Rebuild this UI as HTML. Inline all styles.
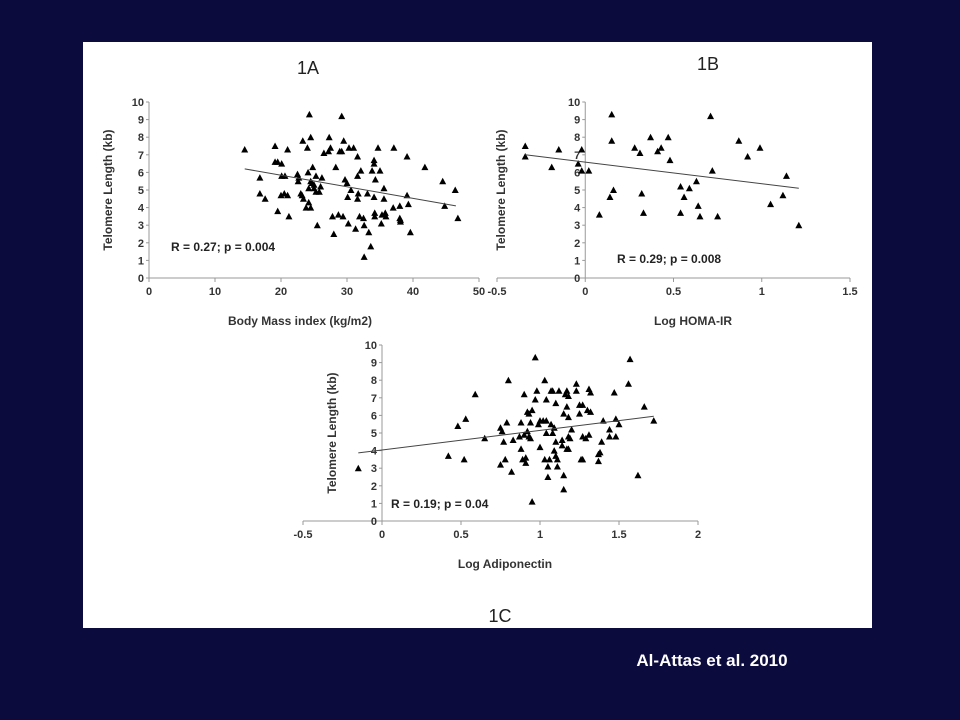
<!DOCTYPE html>
<html><head><meta charset="utf-8"><style>
body{margin:0;background:#0b0b3e;width:960px;height:720px;overflow:hidden;font-family:"Liberation Sans",sans-serif}
svg{position:absolute;left:0;top:0}
</style></head><body>
<svg id="chart" width="960" height="720">
<rect x="83" y="42" width="789" height="586" fill="#fff"/>
<text x="308" y="74" font-size="18" text-anchor="middle" fill="#222">1A</text>
<text x="708" y="70" font-size="18" text-anchor="middle" fill="#222">1B</text>
<text x="500" y="622" font-size="18" text-anchor="middle" fill="#222">1C</text>
<text x="712" y="666" font-size="17" font-weight="bold" text-anchor="middle" fill="#fff">Al-Attas et al. 2010</text>
</svg>
<script>
const yTicks=[0,1,2,3,4,5,6,7,8,9,10];
const aXTicks=[0,10,20,30,40,50];
const aX=[14.5,16.8,16.8,17.6,19.1,19.1,19.5,19.5,20,20.1,20.1,20.6,20.5,21,21,21.2,22.5,22.6,22.7,23,23.2,23.4,23.3,23.8,24,24.1,24.2,24.3,24.5,24.5,24.2,24.5,24.7,24.8,25,25,25.3,25.3,25.5,25.8,26,26.2,26.5,27.2,27.3,27.5,27.8,28,28.3,28.7,28.9,29.2,29.4,29.2,29.5,29.7,30,30.1,30.2,30.3,30.6,31,31.3,31.6,31.6,31.6,31.7,31.9,32.1,32.5,32.6,32.6,33.1,33.3,33.6,33.8,34.1,34.1,34.1,34.2,34.2,34.3,34.7,35,35.2,35.3,35.6,35.6,35.8,35.9,37.1,37,38,38,38.1,38.1,39.6,39.1,39.1,39.3,41.8,44.5,44.8,46.4,46.8];
const aY=[7.3,5.7,4.8,4.5,7.5,6.6,6.6,3.8,4.7,5.8,6.5,5.8,4.8,4.7,7.3,3.5,5.9,5.5,5.7,4.8,4.7,4.5,7.8,4,7.4,6,4.3,9.3,8,4,5.1,5.5,5.4,6.3,5.3,5.1,5.8,4.9,3,4.9,5.2,5.7,7.1,7.2,8,7.4,3.5,2.5,6.3,3.6,7.2,7.2,3.5,9.2,7.8,5.6,5.4,4.6,3.1,7.4,5,7.4,2.8,6.9,4.5,5.8,4.8,3.5,6.1,3.4,3,1.2,4.8,2.6,1.8,6.1,6.7,6.5,4.6,3.5,3.7,5.6,7.4,6.1,3.1,3.6,5.1,4.5,3.7,3.5,7.4,4,4.1,3.4,3.2,3.3,2.6,6.9,4.7,4.2,6.3,5.5,4.1,5,3.4];
const aFitX=[14.5,46.5];const aFitY=[6.2,4.1];
const bXTicks=[-0.5,0,0.5,1,1.5];
const bXTickLabels=["-0.5","0","0.5","1","1.5"];
const bX=[-0.34,-0.34,-0.19,-0.15,-0.04,-0.02,-0.02,0.02,0.08,0.14,0.15,0.15,0.16,0.28,0.31,0.32,0.33,0.37,0.41,0.43,0.47,0.48,0.54,0.54,0.56,0.59,0.63,0.64,0.65,0.71,0.72,0.75,0.87,0.92,0.99,1.05,1.12,1.14,1.21];
const bY=[7.5,6.9,6.3,7.3,6.5,6.1,7.3,6.1,3.6,4.6,9.3,7.8,5,7.4,7.1,4.8,3.7,8,7.2,7.4,8,6.7,5.2,3.7,4.6,5.1,5.5,4.1,3.5,9.2,6.1,3.5,7.8,6.9,7.4,4.2,4.7,5.8,3];
const bFitX=[-0.34,1.21];const bFitY=[7.0,5.1];
const cXTicks=[-0.5,0,0.5,1,1.5,2];
const cXTickLabels=["-0.5","0","0.5","1","1.5","2"];
const cX=[-0.15,0.42,0.48,0.52,0.53,0.59,0.65,0.75,0.75,0.76,0.77,0.78,0.79,0.8,0.82,0.83,0.87,0.88,0.88,0.89,0.9,0.9,0.91,0.91,0.92,0.92,0.93,0.93,0.94,0.94,0.95,0.95,0.97,0.97,0.98,0.99,1.0,1.0,1.02,1.03,1.03,1.04,1.04,1.04,1.05,1.05,1.06,1.07,1.07,1.08,1.08,1.09,1.09,1.1,1.1,1.1,1.11,1.11,1.12,1.14,1.14,1.15,1.15,1.15,1.16,1.17,1.17,1.17,1.18,1.18,1.18,1.18,1.19,1.2,1.23,1.23,1.25,1.25,1.26,1.27,1.27,1.27,1.29,1.3,1.31,1.31,1.32,1.32,1.37,1.37,1.38,1.39,1.4,1.44,1.44,1.47,1.48,1.48,1.5,1.56,1.57,1.62,1.66,1.72];
const cY=[3,3.7,5.4,3.5,5.8,7.2,4.7,5.3,3.2,5.1,4.5,3.5,5.6,8,2.8,4.6,4.8,5.6,4.1,3.5,7.2,4.9,3.3,3.6,5.1,6.2,6.1,4.8,4.7,5.6,6.3,1.1,9.3,6.9,7.4,5.5,4.2,5.7,5.7,8,3.5,5.7,6.9,5,2.5,3.1,3.5,7.4,5.5,7.4,5,5.3,4,6.7,3.7,4.5,3.5,3.1,7.4,4.6,4.3,6.1,2.6,1.8,7.2,7.4,6.5,4.1,7.1,5.9,4.1,4.8,4.7,5.2,7.8,7.4,6.1,6.6,3.5,3.5,6.6,4.8,4.7,6.3,7.5,4.9,7.3,6.2,3.8,3.4,3.9,4.5,5.7,5.2,4.8,7.3,5.8,4.8,5.5,7.8,9.2,2.6,6.5,5.7];
const cFitX=[-0.15,1.72];const cFitY=[3.87,5.95];

const NS="http://www.w3.org/2000/svg";
const svg=document.getElementById('chart');
function mk(tag,attrs,parent){const e=document.createElementNS(NS,tag);for(const k in attrs)e.setAttribute(k,attrs[k]);(parent||svg).appendChild(e);return e;}
function panel(id,o){
  const g=mk('g',{});
  
  
  const sx=v=>o.x0+(v-o.xmin)*(o.x1-o.x0)/(o.xmax-o.xmin);
  const sy=v=>o.y0-(v-0)*(o.y0-o.y1)/10;
  const axX=sx(o.yAxisAt);
  const xl=mk('line',{x1:sx(o.xmin),x2:sx(o.xmax),y1:o.y0,y2:o.y0,stroke:'#999','stroke-width':1},g);
  
  
  const yl=mk('line',{x1:axX,x2:axX,y1:sy(10),y2:o.y0,stroke:'#999','stroke-width':1},g);
  
  
  yTicks.forEach(t=>{
    mk('line',{x1:axX-3,x2:axX,y1:sy(t),y2:sy(t),stroke:'#999'},g);
    const tx=mk('text',{x:axX-5,y:sy(t)+4,'font-size':11,'font-weight':'bold','text-anchor':'end',fill:'#333'},g);
    tx.textContent=t;
    
    
  });
  o.xt.forEach((t,i)=>{
    mk('line',{x1:sx(t),x2:sx(t),y1:o.y0,y2:o.y0+4,stroke:'#999'},g);
    const tx=mk('text',{x:sx(t),y:o.y0+17,'font-size':11,'font-weight':'bold','text-anchor':'middle',fill:'#333'},g);
    tx.textContent=o.xl?o.xl[i]:t;
    
    
  });
  o.px.forEach((v,i)=>{
    const x=sx(v),y=sy(o.py[i]);
    const p=mk('polygon',{points:`${x-3.5},${y+3} ${x+3.5},${y+3} ${x},${y-3.5}`,fill:'#000'},g);
    
    
  });
  const f=mk('line',{x1:sx(o.fx[0]),y1:sy(o.fy[0]),x2:sx(o.fx[1]),y2:sy(o.fy[1]),stroke:'#444','stroke-width':1},g);
  
  
  const yt=mk('text',{x:0,y:0,'font-size':12,'font-weight':'bold','text-anchor':'middle',fill:'#333',transform:`translate(${o.ytx},${(sy(10)+o.y0)/2}) rotate(-90)`},g);
  yt.textContent='Telomere Length (kb)';
  
  
  const xt=mk('text',{x:o.xtx,y:o.y0+47,'font-size':12,'font-weight':'bold','text-anchor':'middle',fill:'#333'},g);
  xt.textContent=o.xtitle;
  
  
  const r=mk('text',{x:o.rx,y:o.ry,'font-size':12,'font-weight':'bold',fill:'#222'},g);
  r.textContent=o.rtext;
  
  
}
panel('panel-1a',{x0:149,x1:479,xmin:0,xmax:50,y0:278,y1:102,yAxisAt:0,xt:aXTicks,px:aX,py:aY,fx:aFitX,fy:aFitY,ytx:112,xtx:300,xtitle:'Body Mass index (kg/m2)',rx:171,ry:251,rtext:'R = 0.27; p = 0.004'});
panel('panel-1b',{x0:497,x1:850,xmin:-0.5,xmax:1.5,y0:278,y1:102,yAxisAt:0,xt:bXTicks,xl:bXTickLabels,px:bX,py:bY,fx:bFitX,fy:bFitY,ytx:505,xtx:693,xtitle:'Log HOMA-IR',rx:617,ry:263,rtext:'R = 0.29; p = 0.008'});
panel('panel-1c',{x0:303,x1:698,xmin:-0.5,xmax:2,y0:521,y1:345,yAxisAt:0,xt:cXTicks,xl:cXTickLabels,px:cX,py:cY,fx:cFitX,fy:cFitY,ytx:336,xtx:505,xtitle:'Log Adiponectin',rx:391,ry:508,rtext:'R = 0.19; p = 0.04'});
</script>
</body></html>
